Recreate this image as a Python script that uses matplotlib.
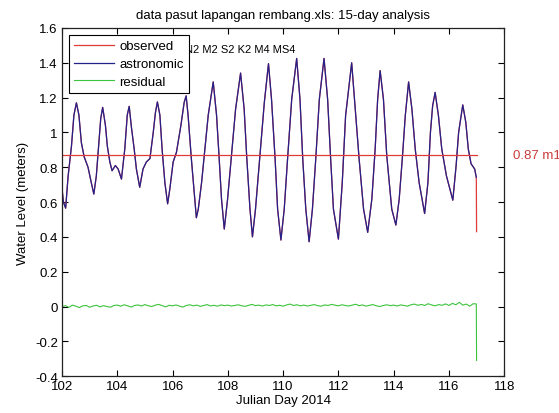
import numpy as np
import matplotlib
matplotlib.use('Agg')
import matplotlib.pyplot as plt

plt.rcParams['font.family'] = ['Liberation Sans', 'DejaVu Sans']

# astronomic tide, Julian day / metres
astro_day = [102.00, 102.05, 102.13, 102.22, 102.34, 102.43, 102.52, 102.61, 102.70, 102.80,
             102.94, 103.06, 103.15, 103.24, 103.33, 103.40, 103.47, 103.57, 103.64, 103.73,
             103.81, 103.93, 104.03, 104.15, 104.27, 104.36, 104.43, 104.51, 104.61, 104.69,
             104.81, 104.93, 105.05, 105.18, 105.30, 105.38, 105.45, 105.54, 105.62, 105.72,
             105.82, 105.90, 106.02, 106.14, 106.30, 106.42, 106.49, 106.56, 106.68, 106.78,
             106.86, 106.93, 107.05, 107.17, 107.29, 107.47, 107.59, 107.68, 107.77, 107.87,
             107.99, 108.13, 108.28, 108.46, 108.59, 108.68, 108.80, 108.89, 109.00, 109.16,
             109.32, 109.47, 109.58, 109.71, 109.80, 109.92, 110.04, 110.16, 110.31, 110.49,
             110.61, 110.71, 110.82, 110.94, 111.06, 111.18, 111.31, 111.48, 111.61, 111.72,
             111.82, 112.00, 112.14, 112.26, 112.48, 112.63, 112.75, 112.91, 113.06, 113.21,
             113.33, 113.42, 113.51, 113.63, 113.75, 113.93, 114.08, 114.20, 114.32, 114.42,
             114.54, 114.66, 114.78, 114.92, 115.12, 115.24, 115.33, 115.41, 115.50, 115.62,
             115.74, 115.91, 116.14, 116.26, 116.35, 116.50, 116.61, 116.70, 116.80, 116.93,
             116.99]
astro_val = [0.675, 0.60, 0.565, 0.75, 0.92, 1.10, 1.17, 1.10, 0.94, 0.86,
             0.80, 0.71, 0.646, 0.75, 0.94, 1.08, 1.144, 1.04, 0.92, 0.83,
             0.78, 0.81, 0.79, 0.732, 0.905, 1.10, 1.15, 1.03, 0.905, 0.79,
             0.685, 0.79, 0.83, 0.85, 1.00, 1.115, 1.175, 1.10, 0.905, 0.713,
             0.59, 0.675, 0.83, 0.886, 1.04, 1.173, 1.21, 1.10, 0.847, 0.656,
             0.51, 0.56, 0.713, 0.905, 1.10, 1.29, 1.10, 0.866, 0.617, 0.445,
             0.617, 0.866, 1.134, 1.341, 1.134, 0.866, 0.56, 0.40, 0.56, 0.866,
             1.173, 1.395, 1.19, 0.847, 0.56, 0.382, 0.56, 0.847, 1.19, 1.425,
             1.19, 0.847, 0.56, 0.372, 0.56, 0.847, 1.19, 1.425, 1.19, 0.847,
             0.56, 0.387, 0.713, 1.096, 1.40, 1.096, 0.847, 0.56, 0.426, 0.617,
             0.905, 1.19, 1.355, 1.19, 0.866, 0.56, 0.468, 0.617, 0.866, 1.096,
             1.29, 1.134, 0.905, 0.713, 0.534, 0.713, 1.0, 1.153, 1.23, 1.096,
             0.905, 0.75, 0.611, 0.81, 1.0, 1.158, 1.058, 0.905, 0.82, 0.79,
             0.742]

# observed follows astronomic, then drops at the last sample
obs_tail_day = [117.0]
obs_tail_val = [0.43]

# residual, 3-hourly from day 102, last two samples at the very end
res_day = list(np.arange(102, 116.9, 0.125)) + [116.99, 117.0]
res_val = [0.000, 0.005, -0.005, 0.008, 0.002, -0.006, 0.004, 0.006,
           -0.004, 0.003, 0.007, -0.002, 0.005, 0.000, -0.004, 0.006,
           0.008, 0.002, 0.010, 0.004, -0.003, 0.006, 0.009, 0.003,
           0.011, 0.004, 0.000, 0.008, 0.012, 0.005, -0.002, 0.007,
           0.004, 0.009, 0.002, -0.003, 0.006, 0.010, 0.004, 0.008,
           0.001, 0.006, 0.011, 0.003, 0.007, 0.002, 0.009, 0.005,
           0.008, 0.003, 0.006, 0.010, 0.004, 0.001, 0.007, 0.012,
           0.005, 0.008, 0.003, 0.009, 0.006, 0.011, 0.004, 0.007,
           0.002, 0.009, 0.014, 0.006, 0.010, 0.004, 0.008, 0.003,
           0.007, 0.011, 0.005, 0.002, 0.009, 0.006, 0.012, 0.008,
           0.004, 0.010, 0.006, 0.003, 0.008, 0.013, 0.005, 0.009,
           0.002, 0.007, 0.011, 0.004, 0.000, 0.006, 0.010, 0.005,
           0.008, 0.003, 0.009, 0.006, 0.002, 0.010, 0.014, 0.007,
           0.012, 0.006, 0.016, 0.009, 0.004, 0.011, 0.007, 0.015,
           0.006, 0.018, 0.010, 0.024, 0.008, 0.014, 0.002, 0.016,
           0.015, -0.31]

mean_level = 0.87
constituents = 'N2 M2 S2 K2 M4 MS4'

obs_day = astro_day + obs_tail_day
obs_val = astro_val + obs_tail_val

fig = plt.figure(figsize=(5.59, 4.14), dpi=100)
ax = fig.add_axes([0.111, 0.089, 0.791, 0.841])

ax.plot(obs_day, obs_val, color='#e03a3a', lw=0.9, label='observed')
ax.plot(astro_day, astro_val, color='#22228a', lw=0.9, label='astronomic')
ax.plot(res_day, res_val, color='#3cc43c', lw=0.8, label='residual')
ax.plot([obs_day[0], obs_day[-1]], [mean_level, mean_level], color='#e03a3a', lw=0.9)

ax.text(118.3, mean_level, '%.2f m1' % mean_level, color='#c83c3c', fontsize=9.5,
        va='center', ha='left', clip_on=False)
ax.text(110.45, 1.48, constituents, fontsize=8, ha='right', va='center')

ax.set_xlim(102, 118)
ax.set_ylim(-0.4, 1.6)
ax.set_xticks(np.arange(102, 119, 2))
ax.set_yticks(np.arange(-0.4, 1.61, 0.2))
ax.set_yticklabels(['%g' % round(v, 1) for v in np.arange(-0.4, 1.61, 0.2)])
ax.tick_params(direction='in', top=True, right=True, length=4, width=0.8,
               labelsize=9.5, pad=3)
for s in ax.spines.values():
    s.set_linewidth(0.9)
    s.set_color('#222222')

ax.set_title('data pasut lapangan rembang.xls: 15-day analysis', fontsize=9.5, pad=7)
ax.set_xlabel('Julian Day 2014', fontsize=9.5, labelpad=1)
ax.set_ylabel('Water Level (meters)', fontsize=9.5, labelpad=4)

leg = ax.legend(loc='upper left', bbox_to_anchor=(0.016, 0.98), borderaxespad=0,
                fontsize=9.5, fancybox=False, framealpha=1, edgecolor='black',
                handlelength=3.0, handletextpad=0.4, borderpad=0.4, labelspacing=0.42)
leg.get_frame().set_linewidth(0.8)

fig.savefig('out.png', dpi=100)
